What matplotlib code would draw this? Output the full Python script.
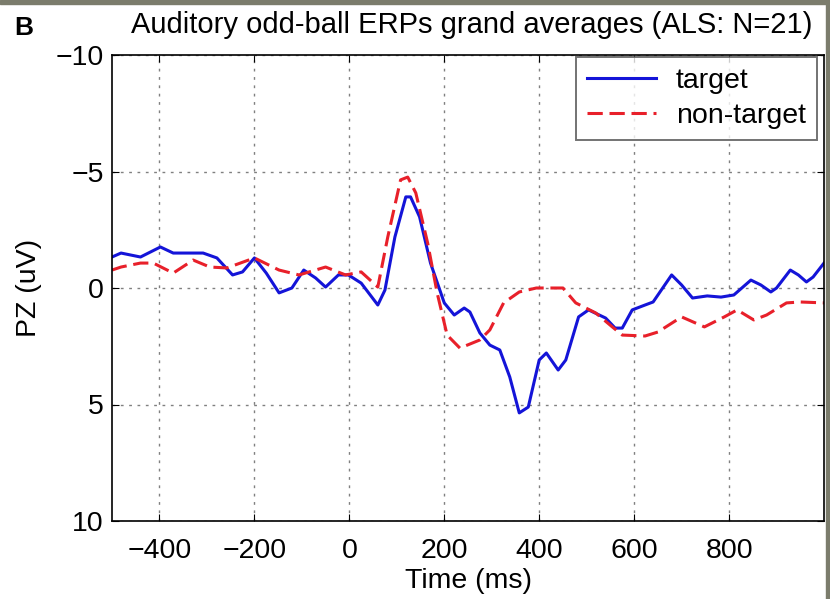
import matplotlib.pyplot as plt
from matplotlib.patches import Rectangle

plt.rcParams['font.family'] = ['Liberation Sans', 'DejaVu Sans']

# grand average ERP at PZ (ms, uV)
target_t = [-500, -481, -440, -398, -371, -308, -279, -246, -225, -200, -175, -148,
            -121, -96, -71, -50, -23, -2, 25, 60, 75, 96, 119, 129, 148, 171, 200,
            221, 242, 254, 275, 296, 317, 338, 358, 377, 400, 415, 440, 456, 483,
            504, 540, 560, 575, 596, 623, 640, 679, 700, 723, 754, 783, 810, 846,
            867, 888, 900, 929, 946, 963, 977, 1000]
target_v = [-1.33, -1.50, -1.33, -1.76, -1.50, -1.50, -1.29, -0.56, -0.69, -1.29,
            -0.64, 0.21, 0.0, -0.77, -0.43, -0.04, -0.56, -0.56, -0.21, 0.73, 0.09,
            -2.19, -3.91, -3.91, -3.05, -1.07, 0.64, 1.16, 0.86, 1.03, 1.93, 2.45,
            2.66, 3.82, 5.36, 5.11, 3.09, 2.79, 3.52, 3.09, 1.24, 0.94, 1.29, 1.72,
            1.72, 0.94, 0.73, 0.60, -0.56, -0.13, 0.43, 0.34, 0.39, 0.30, -0.34,
            -0.13, 0.17, 0.0, -0.77, -0.56, -0.26, -0.47, -1.07]

nontarget_t = [-500, -481, -440, -413, -371, -329, -294, -258, -200, -148, -106, -50,
               -8, 25, 60, 81, 108, 123, 140, 165, 185, 206, 233, 275, 296, 325, 358,
               394, 450, 477, 519, 554, 575, 623, 650, 700, 748, 790, 817, 852, 879,
               921, 950, 1000]
nontarget_v = [-0.77, -0.90, -1.07, -1.07, -0.64, -1.20, -0.90, -0.86, -1.29, -0.77,
               -0.56, -0.90, -0.56, -0.69, -0.04, -2.19, -4.64, -4.76, -4.08, -1.93,
               0.21, 2.02, 2.58, 2.23, 1.80, 0.64, 0.17, 0.0, 0.0, 0.64, 1.07, 1.67,
               2.02, 2.06, 1.89, 1.24, 1.67, 1.24, 0.94, 1.37, 1.16, 0.64, 0.60, 0.64]

x_ticks = [-400, -200, 0, 200, 400, 600, 800]
y_ticks = [-10, -5, 0, 5, 10]

fig = plt.figure(figsize=(8.3, 5.99), dpi=100)
ax = fig.add_axes([112/830, 78/599, 712/830, 466/599])

ax.plot(target_t, target_v, color='#1414d8', lw=2.2, label='target',
        solid_joinstyle='round')
ax.plot(nontarget_t, nontarget_v, color='#e8202a', lw=2.2, ls=(0, (5, 2.2)),
        label='non-target')

ax.set_xlim(-500, 1000)
ax.set_ylim(10, -10)
ax.set_xticks(x_ticks)
ax.set_yticks(y_ticks)
ax.set_xticklabels([str(t).replace('-', '\u2212') for t in x_ticks])
ax.set_yticklabels([str(t).replace('-', '\u2212') for t in y_ticks])
ax.tick_params(direction='in', top=True, right=True, labelsize=20.5, length=5)
ax.tick_params(axis='x', pad=12)
ax.tick_params(axis='y', pad=6)
ax.grid(True, color='#808080', ls=(0, (2, 4)), lw=1)
for s in ax.spines.values():
    s.set_linewidth(1.2)

ax.set_xlabel('Time (ms)', fontsize=20.5, labelpad=3)
ax.set_ylabel('PZ (uV)', fontsize=20.5, labelpad=10)

leg = ax.legend(loc='upper right', fontsize=20.5, frameon=True, fancybox=False,
                handlelength=2.4, handletextpad=0.7, borderpad=0.4,
                labelspacing=0.3, borderaxespad=0,
                bbox_to_anchor=(1 - 7/712, 1 - 2/466))
leg.get_frame().set_edgecolor('#505050')
leg.get_frame().set_linewidth(1.4)

fig.text(472/830, 1 - 25/599, 'Auditory odd-ball ERPs grand averages (ALS: N=21)',
         ha='center', va='center', fontsize=21)
fig.text(14/830, 1 - 28/599, 'B', ha='left', va='center', fontsize=19, fontweight='bold')

# grey frame of the source image
fig.patches.append(Rectangle((0, 1 - 4/599), 1, 4/599, transform=fig.transFigure,
                             color='#7b7c6c', zorder=10))
fig.patches.append(Rectangle((1 - 4/830, 0), 4/830, 1, transform=fig.transFigure,
                             color='#7b7c6c', zorder=10))

fig.savefig('out.png', dpi=100)
